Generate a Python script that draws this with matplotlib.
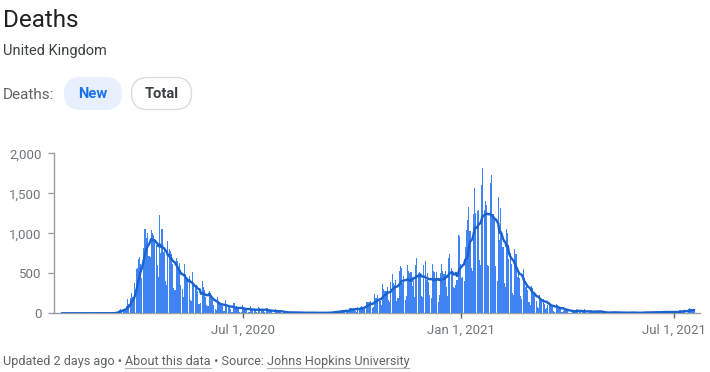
import matplotlib
matplotlib.use('Agg')
import matplotlib.pyplot as plt
import matplotlib.dates as mdates
from matplotlib.patches import FancyBboxPatch
import numpy as np
import pandas as pd

plt.rcParams['font.family'] = ['Roboto', 'DejaVu Sans']

# ---------------- data (daily reported deaths, UK) ----------------
start_date = '2020-01-29'
# Jan 29 - Mar 1 2020
pre_outbreak = [0, 0, 0, 0, 0,
                0, 0, 0, 0, 0, 0, 0,
                0, 0, 0, 0, 0, 0, 0,
                0, 0, 0, 0, 0, 0, 0,
                0, 0, 0, 0, 0, 0, 0]
# Mar 2 - Jul 26 2020 (Mon..Sun weeks)
wave1 = [
    0, 0, 0, 1, 1, 0, 1,
    1, 2, 1, 2, 1, 10, 14,
    20, 35, 45, 50, 45, 55, 45,
    50, 90, 180, 120, 190, 260, 210,
    180, 380, 560, 570, 680, 710, 620,
    440, 820, 1060, 1050, 940, 1000, 720,
    700, 1040, 1000, 980, 930, 860, 600,
    450, 1225, 760, 1050, 770, 820, 410,
    360, 900, 800, 780, 740, 620, 315,
    290, 690, 650, 540, 630, 350, 300,
    210, 620, 490, 430, 380, 470, 170,
    160, 520, 360, 340, 350, 280, 120,
    120, 130, 410, 330, 290, 210, 110,
    90, 280, 260, 180, 170, 110, 50,
    40, 200, 150, 140, 110, 90, 30,
    25, 170, 120, 100, 90, 60, 20,
    15, 130, 80, 90, 70, 60, 20,
    20, 110, 70, 60, 50, 45, 20,
    15, 90, 60, 50, 45, 40, 15,
    10, 80, 70, 50, 45, 40, 15,
    10, 70, 40, 40, 30, 25, 10,
]
# Jul 27 - Sep 27 2020
summer_2020 = [
    5, 50, 40, 30, 25, 20, 8,
    5, 20, 15, 15, 10, 10, 5,
    5, 15, 15, 12, 10, 10, 5,
    3, 12, 10, 10, 8, 5, 3,
    2, 10, 15, 8, 10, 5, 3,
    2, 5, 10, 10, 10, 8, 2,
    3, 8, 8, 12, 6, 9, 5,
    9, 27, 20, 21, 27, 18, 18,
    11, 37, 37, 40, 40, 34, 17,
]
# Sep 28 2020 - Mar 28 2021
wave2 = [
    13, 71, 71, 66, 59, 49, 33,
    19, 76, 70, 77, 87, 81, 65,
    50, 143, 137, 138, 136, 150, 67,
    80, 241, 191, 189, 224, 174, 151,
    102, 367, 310, 280, 274, 326, 162,
    136, 397, 492, 378, 355, 413, 156,
    194, 532, 595, 563, 376, 462, 168,
    213, 598, 529, 501, 511, 341, 398,
    206, 608, 696, 498, 521, 479, 215,
    205, 603, 648, 414, 504, 397, 231,
    189, 616, 533, 516, 424, 519, 144,
    232, 506, 612, 532, 489, 534, 326,
    215, 691, 744, 570, 528, 330, 316,
    357, 414, 981, 964, 613, 445, 454,
    407, 830, 1041, 1162, 1325, 1035, 563,
    529, 1243, 1564, 1248, 1280, 1295, 671,
    599, 1610, 1820, 1290, 1401, 1348, 610,
    592, 1631, 1725, 1239, 1245, 1200, 587,
    406, 1449, 915, 1322, 1014, 828, 373,
    333, 1052, 1001, 678, 758, 621, 258,
    230, 799, 738, 454, 533, 445, 215,
    178, 548, 442, 323, 345, 290, 144,
    104, 343, 315, 242, 236, 158, 82,
    65, 231, 190, 181, 175, 121, 52,
    64, 110, 141, 95, 101, 96, 33,
    17, 112, 98, 70, 63, 58, 19,
]
# Mar 29 - Jul 18 2021
spring_2021 = [
    23, 56, 45, 51, 52, 10, 10,
    9, 26, 23, 45, 60, 40, 7,
    13, 23, 20, 22, 53, 34, 4,
    10, 33, 22, 18, 18, 32, 19,
    17, 29, 27, 25, 14, 15, 1,
    1, 4, 13, 12, 20, 17, 5,
    4, 11, 13, 11, 17, 7, 4,
    1, 11, 7, 9, 10, 12, 5,
    5, 14, 9, 10, 10, 6, 4,
    0, 3, 12, 18, 11, 13, 4,
    5, 13, 9, 19, 20, 14, 8,
    3, 10, 19, 19, 20, 11, 10,
    5, 27, 19, 21, 18, 18, 9,
    4, 22, 21, 18, 18, 20, 15,
    9, 37, 33, 35, 34, 34, 6,
    6, 50, 63, 48, 51, 49, 25,
]

x_tick_dates = ['2020-07-01', '2021-01-01', '2021-07-01']
x_tick_labels = ['Jul 1, 2020', 'Jan 1, 2021', 'Jul 1, 2021']
y_ticks = [0, 500, 1000, 1500, 2000]
y_tick_labels = ['0', '500', '1,000', '1,500', '2,000']

daily = pre_outbreak + wave1 + summer_2020 + wave2 + spring_2021
dates = pd.date_range(start_date, periods=len(daily), freq='D')
series = pd.Series(daily, index=dates, dtype=float)
avg7 = series.rolling(7, min_periods=1).mean()

# ---------------- figure ----------------
W, H = 710, 372
fig = plt.figure(figsize=(W / 100, H / 100), dpi=100)
fig.patch.set_facecolor('white')

# overlay in pixel coords for header / footer
ov = fig.add_axes([0, 0, 1, 1])
ov.set_xlim(0, W)
ov.set_ylim(H, 0)
ov.axis('off')

TXT = '#202124'
GREY = '#5f6368'
TICK_GREY = '#70757a'

ov.text(3, 27, 'Deaths', fontsize=17.5, color=TXT, va='baseline', ha='left')
ov.text(3, 55, 'United Kingdom', fontsize=10.5, color='#3c4043', va='baseline', ha='left')
ov.text(3, 99, 'Deaths:', fontsize=11, color=GREY, va='baseline', ha='left')

new_pill = FancyBboxPatch((64, 77), 58, 33, boxstyle='round,pad=0,rounding_size=16.5',
                          facecolor='#e8f0fe', edgecolor='none')
ov.add_patch(new_pill)
total_pill = FancyBboxPatch((131.5, 77.5), 60, 32, boxstyle='round,pad=0,rounding_size=16',
                            facecolor='white', edgecolor='#dadce0', linewidth=1)
ov.add_patch(total_pill)
ov.text(93, 98.5, 'New', fontsize=10.6, color='#1a73e8', va='baseline', ha='center',
        fontweight='bold')
ov.text(161.5, 98.5, 'Total', fontsize=10.6, color='#3c4043', va='baseline', ha='center',
        fontweight='bold')

# ---------------- chart ----------------
ax_left, ax_right, ax_top, ax_bot = 54, 700, 153.3, 313.3
ax = fig.add_axes([ax_left / W, 1 - ax_bot / H, (ax_right - ax_left) / W, (ax_bot - ax_top) / H])
ax.set_facecolor('none')

px_per_day = 1.18
first = mdates.date2num(dates[0])
ax.set_xlim(first - (61.7 - ax_left) / px_per_day, first + (ax_right - 61.7) / px_per_day)
ax.set_ylim(0, 2000)

ax.bar(dates, series.values, width=0.9, color='#3f84f2', edgecolor='none', zorder=1,
       linewidth=0)
ax.plot(dates, avg7.values, color='#1a62d0', linewidth=1.7, zorder=3,
        solid_joinstyle='round', solid_capstyle='round')

for s in ['top', 'right']:
    ax.spines[s].set_visible(False)
ax.spines['left'].set_color('#9aa0a6')
ax.spines['bottom'].set_color('#9aa0a6')
ax.spines['left'].set_linewidth(1.0)
ax.spines['bottom'].set_linewidth(1.0)
ax.spines['bottom'].set_zorder(0.5)

ax.set_yticks(y_ticks)
ax.set_yticklabels(y_tick_labels)
ax.set_xticks(pd.to_datetime(x_tick_dates))
ax.set_xticklabels(x_tick_labels)
ax.tick_params(axis='y', length=4.5, width=1, color='#9aa0a6', pad=4.5,
               labelsize=9.5, labelcolor=TICK_GREY)
ax.tick_params(axis='x', length=3.8, width=1, color='#5f6368', pad=4,
               labelsize=9.5, labelcolor=TICK_GREY)

# ---------------- footer ----------------
fig.canvas.draw()
renderer = fig.canvas.get_renderer()
pieces = [('Updated 2 days ago \u2022 ', False), ('About this data', True),
          (' \u2022 Source: ', False), ('Johns Hopkins University', True)]
x = 3
base_y = 365
for txt, underline in pieces:
    t = ov.text(x, base_y, txt, fontsize=9.1, color=GREY, va='baseline', ha='left')
    bb = t.get_window_extent(renderer=renderer)
    w = bb.width
    if underline:
        ov.plot([x, x + w], [base_y + 2.5, base_y + 2.5], color='#b0b4b8', linewidth=0.8)
    x += w

fig.savefig('out.png', dpi=100, facecolor='white')
